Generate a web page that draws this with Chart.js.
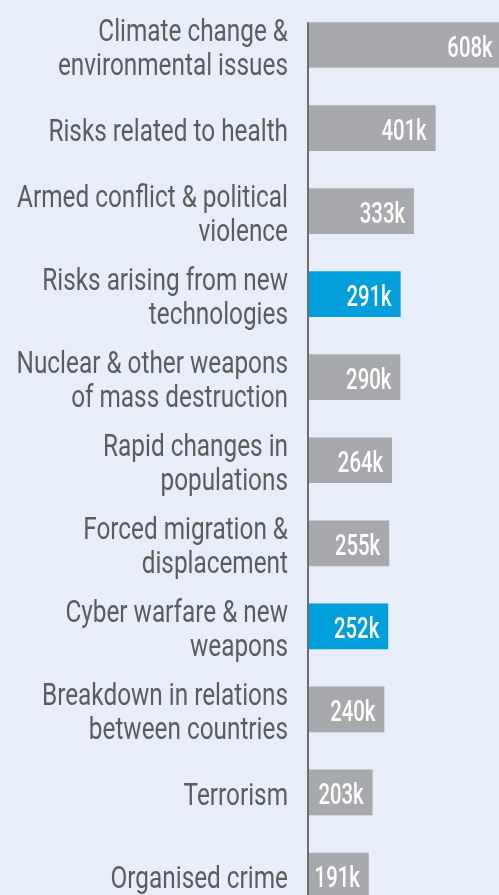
<!DOCTYPE html>
<html>
<head>
<meta charset="utf-8">
<script src="https://cdn.jsdelivr.net/npm/chart.js@4"></script>
<style>
  html, body { margin: 0; padding: 0; background: #e7eef9; overflow: hidden; }
  #wrap { position: relative; width: 499px; height: 917px; }
</style>
</head>
<body>
<div id="wrap"><canvas id="chart"></canvas></div>
<script>
// labels (multi-line as in the picture)
const categories = [
  ['Climate change &', 'environmental issues'],
  ['Risks related to health'],
  ['Armed conflict & political', 'violence'],
  ['Risks arising from new', 'technologies'],
  ['Nuclear & other weapons', 'of mass destruction'],
  ['Rapid changes in', 'populations'],
  ['Forced migration &', 'displacement'],
  ['Cyber warfare & new', 'weapons'],
  ['Breakdown in relations', 'between countries'],
  ['Terrorism'],
  ['Organised crime']
];
// thousands
const values = [608, 401, 333, 291, 290, 264, 255, 252, 240, 203, 191];
const highlighted = [3, 7];

const GREY = '#a8a9ad';
const BLUE = '#009edb';
const FONT = "Roboto, 'Noto Sans', sans-serif";

// draw text squeezed horizontally (the original uses a condensed face)
function condensedText(ctx, text, x, y, squeeze) {
  ctx.save();
  ctx.translate(x, y);
  ctx.scale(squeeze, 1);
  ctx.fillText(text, 0, 0);
  ctx.restore();
}

// category labels, right aligned left of the axis
const categoryLabels = {
  id: 'categoryLabels',
  afterDraw(chart) {
    const ctx = chart.ctx;
    const yScale = chart.scales.y;
    const x = chart.chartArea.left - 20;
    ctx.save();
    ctx.fillStyle = '#5b5c5e';
    ctx.font = '400 31px ' + FONT;
    ctx.textAlign = 'right';
    ctx.textBaseline = 'alphabetic';
    categories.forEach((lines, i) => {
      const c = yScale.getPixelForTick(i);
      const start = lines.length > 1 ? c - 4 : c + 13;
      lines.forEach((line, j) => {
        condensedText(ctx, line, x, start + j * 34, 0.785);
      });
    });
    ctx.restore();
  }
};

// value labels drawn inside the bar end
const valueLabels = {
  id: 'valueLabels',
  afterDatasetsDraw(chart) {
    const ctx = chart.ctx;
    const meta = chart.getDatasetMeta(0);
    ctx.save();
    ctx.fillStyle = '#ffffff';
    ctx.font = '500 29px ' + FONT;
    ctx.textAlign = 'right';
    ctx.textBaseline = 'alphabetic';
    meta.data.forEach((bar, i) => {
      condensedText(ctx, values[i] + 'k', bar.x - 9, bar.y + 12, 0.7);
    });
    ctx.restore();
  }
};

// vertical axis line starting at the top of the first bar
const axisLine = {
  id: 'axisLine',
  afterDatasetsDraw(chart) {
    const ctx = chart.ctx;
    const first = chart.getDatasetMeta(0).data[0];
    const top = first.y - first.height / 2;
    const x = chart.chartArea.left;
    ctx.save();
    ctx.strokeStyle = '#6d6e71';
    ctx.lineWidth = 2;
    ctx.beginPath();
    ctx.moveTo(x, top);
    ctx.lineTo(x, chart.height);
    ctx.stroke();
    ctx.restore();
  }
};

const ctx = document.getElementById('chart').getContext('2d');
new Chart(ctx, {
  type: 'bar',
  data: {
    labels: categories,
    datasets: [{
      data: values,
      backgroundColor: values.map((v, i) => highlighted.includes(i) ? BLUE : GREY),
      borderWidth: 0,
      barPercentage: 0.55,
      categoryPercentage: 1
    }]
  },
  options: {
    indexAxis: 'y',
    responsive: true,
    maintainAspectRatio: false,
    animation: false,
    layout: { padding: { top: 3.5, bottom: 0, left: 0, right: 0 } },
    plugins: {
      legend: { display: false },
      tooltip: { enabled: false }
    },
    scales: {
      x: {
        display: false,
        min: 0,
        max: 600
      },
      y: {
        afterFit(scale) {
          scale.width = 308;
          scale.paddingTop = 0;
          scale.paddingBottom = 0;
        },
        grid: { display: false, drawTicks: false },
        border: { display: false },
        ticks: { display: false }
      }
    }
  },
  plugins: [valueLabels, axisLine, categoryLabels]
});
</script>
</body>
</html>
